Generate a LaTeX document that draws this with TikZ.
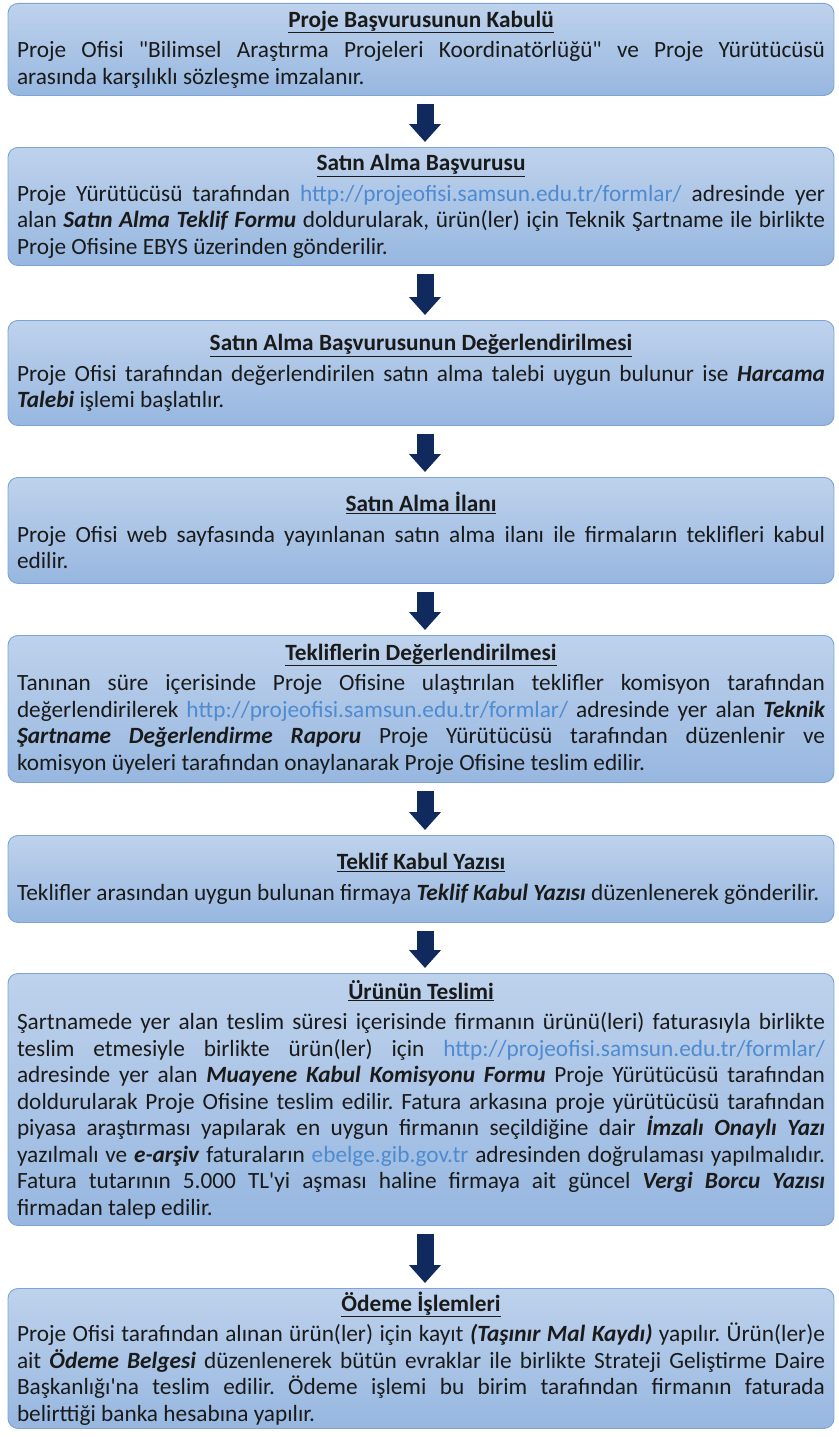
\documentclass[tikz,border=0pt]{standalone}
\usepackage{fontspec}
\setmainfont{Carlito}[Ligatures=TeXOff]
\usetikzlibrary{arrows.meta}
\definecolor{boxtop}{HTML}{BED2EC}
\definecolor{boxbot}{HTML}{97B7E0}
\definecolor{boxedge}{HTML}{7CA4D7}
\definecolor{arrowc}{HTML}{112A5E}
\definecolor{linkc}{HTML}{4F8BD0}
\definecolor{txt}{HTML}{1A1A1A}
\newcommand\bxtitle[1]{\centerline{\bfseries\underline{#1}}\par\vspace{4pt}}
\newcommand\lnk[1]{{\color{linkc}#1}}
\newcommand\bi[1]{\textbf{\textit{#1}}}
\tikzset{
  flowbox/.style={draw=boxedge, line width=0.9pt, rounded corners=10pt,
    top color=boxtop, bottom color=boxbot, text=txt,
    text width=808pt, inner xsep=9pt, inner ysep=0pt, align=justify,
    anchor=north, font=\fontsize{23.3}{26.5}\selectfont\frenchspacing},
  flowarrow/.style={draw=arrowc, line width=17pt,
    -{Triangle[width=31pt,length=18pt]}, shorten <=8pt, shorten >=5pt}
}
\begin{document}
\begin{tikzpicture}[x=1pt,y=1pt]
\useasboundingbox (0,0) rectangle (838,-1437);
\node[flowbox, minimum height=92pt] (b1) at (421,-3) {\bxtitle{Proje Başvurusunun Kabulü}%
Proje Ofisi "Bilimsel Araştırma Projeleri Koordinatörlüğü" ve Proje Yürütücüsü\linebreak
arasında karşılıklı sözleşme imzalanır.};
\node[flowbox, minimum height=118pt] (b2) at (421,-147) {\bxtitle{Satın Alma Başvurusu}%
Proje Yürütücüsü tarafından \lnk{http://projeofisi.samsun.edu.tr/formlar/} adresinde yer\linebreak
alan \bi{Satın Alma Teklif Formu} doldurularak, ürün(ler) için Teknik Şartname ile birlikte\linebreak
Proje Ofisine EBYS üzerinden gönderilir.};
\node[flowbox, minimum height=105pt] (b3) at (421,-320) {\bxtitle{Satın Alma Başvurusunun Değerlendirilmesi}%
Proje Ofisi tarafından değerlendirilen satın alma talebi uygun bulunur ise \bi{Harcama\linebreak
Talebi} işlemi başlatılır.};
\node[flowbox, minimum height=106pt] (b4) at (421,-477) {\bxtitle{Satın Alma İlanı}%
Proje Ofisi web sayfasında yayınlanan satın alma ilanı ile firmaların teklifleri kabul\linebreak
edilir.};
\node[flowbox, minimum height=147pt] (b5) at (421,-635) {\bxtitle{Tekliflerin Değerlendirilmesi}%
Tanınan süre içerisinde Proje Ofisine ulaştırılan teklifler komisyon tarafından\linebreak
değerlendirilerek \lnk{http://projeofisi.samsun.edu.tr/formlar/} adresinde yer alan \bi{Teknik\linebreak
Şartname Değerlendirme Raporu} Proje Yürütücüsü tarafından düzenlenir ve\linebreak
komisyon üyeleri tarafından onaylanarak Proje Ofisine teslim edilir.};
\node[flowbox, minimum height=87pt] (b6) at (421,-835) {\bxtitle{Teklif Kabul Yazısı}%
Teklifler arasından uygun bulunan firmaya \bi{Teklif Kabul Yazısı} düzenlenerek gönderilir.};
\node[flowbox, minimum height=252pt] (b7) at (421,-973) {\bxtitle{Ürünün Teslimi}%
Şartnamede yer alan teslim süresi içerisinde firmanın ürünü(leri) faturasıyla birlikte\linebreak
teslim etmesiyle birlikte ürün(ler) için \lnk{http://projeofisi.samsun.edu.tr/formlar/}\linebreak
adresinde yer alan \bi{Muayene Kabul Komisyonu Formu} Proje Yürütücüsü tarafından\linebreak
doldurularak Proje Ofisine teslim edilir. Fatura arkasına proje yürütücüsü tarafından\linebreak
piyasa araştırması yapılarak en uygun firmanın seçildiğine dair \bi{İmzalı Onaylı Yazı}\linebreak
yazılmalı ve \bi{e-arşiv} faturaların \lnk{ebelge.gib.gov.tr} adresinden doğrulaması yapılmalıdır.\linebreak
Fatura tutarının 5.000 TL'yi aşması haline firmaya ait güncel \bi{Vergi Borcu Yazısı}\linebreak
firmadan talep edilir.};
\node[flowbox, minimum height=140pt] (b8) at (421,-1288) {\bxtitle{Ödeme İşlemleri}%
Proje Ofisi tarafından alınan ürün(ler) için kayıt \bi{(Taşınır Mal Kaydı)} yapılır. Ürün(ler)e\linebreak
ait \bi{Ödeme Belgesi} düzenlenerek bütün evraklar ile birlikte Strateji Geliştirme Daire\linebreak
Başkanlığı'na teslim edilir. Ödeme işlemi bu birim tarafından firmanın faturada\linebreak
belirttiği banka hesabına yapılır.};
\foreach \a/\b in {b1/b2,b2/b3,b3/b4,b4/b5,b5/b6,b6/b7,b7/b8}
  \draw[flowarrow] ([xshift=4pt]\a.south) -- ([xshift=4pt]\b.north);
\end{tikzpicture}
\end{document}
